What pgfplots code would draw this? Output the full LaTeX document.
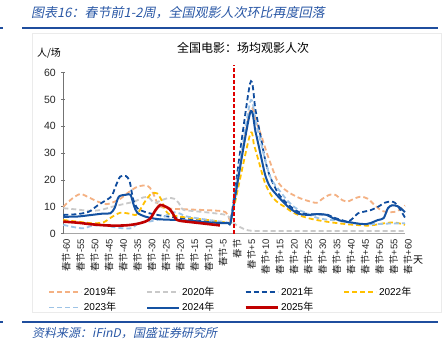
\documentclass[border=0pt]{standalone}
\usepackage{pgfplots}
\pgfplotsset{compat=1.18}
\usepackage{fontspec}
\setmainfont{Liberation Sans}
\newfontfamily\cjk{Noto Sans CJK SC}
\newfontfamily\cjkit{Noto Sans CJK SC}[FakeSlant=0.2]
\newcommand{\cj}[1]{{\cjk #1}}
\definecolor{hdrblue}{HTML}{2A58A6}
\definecolor{rule}{HTML}{1F4E9E}
\definecolor{c19}{HTML}{F4B183}
\definecolor{c20}{HTML}{C9C9C9}
\definecolor{c21}{HTML}{0F4C9E}
\definecolor{c22}{HTML}{FFC000}
\definecolor{c23}{HTML}{9DC3E6}
\definecolor{c24}{HTML}{1452A2}
\definecolor{c25}{HTML}{C00000}
\definecolor{vred}{HTML}{E00000}
\begin{document}
\begin{tikzpicture}
\useasboundingbox (0pt,0pt) rectangle (442pt,356pt);
\fill[white] (0pt,0pt) rectangle (442pt,356pt);
% header
\node[anchor=west, inner sep=0pt, text=hdrblue, font=\cjkit\fontsize{13}{13}\selectfont] at (31pt,343pt) {图表16：春节前1-2周，全国观影人次环比再度回落};
\draw[rule, line width=1.5pt] (22pt,328pt) -- (438pt,328pt);
\draw[rule, line width=1.5pt] (0pt,328pt) -- (3pt,328pt);
% chart area border
\draw[black!8, line width=0.6pt] (32pt,44pt) rectangle (441pt,323pt);
\begin{axis}[
  at={(234.15pt,122.3pt)}, anchor=origin,
  scale only axis, width=341.7pt, height=161pt,
  xmin=-60, xmax=60, ymin=0, ymax=60,
  clip=false,
  axis x line*=bottom, axis y line*=left,
  x axis line style={draw=black!35, line width=1.2pt},
  y axis line style={draw=black!55, line width=0.8pt},
  xtick={-60,-55,...,60},
  xticklabels={\cj{春节}-60,\cj{春节}-55,\cj{春节}-50,\cj{春节}-45,\cj{春节}-40,\cj{春节}-35,\cj{春节}-30,\cj{春节}-25,\cj{春节}-20,\cj{春节}-15,\cj{春节}-10,\cj{春节}-5,\cj{春节},\cj{春节}+5,\cj{春节}+10,\cj{春节}+15,\cj{春节}+20,\cj{春节}+25,\cj{春节}+30,\cj{春节}+35,\cj{春节}+40,\cj{春节}+45,\cj{春节}+50,\cj{春节}+55,\cj{春节}+60},
  x tick label style={rotate=90, anchor=east, font=\fontsize{9.5}{10}\selectfont, yshift=-3pt, text=black!85},
  x tick style={draw=none},
  ytick={0,10,...,60},
  y tick label style={font=\fontsize{10.5}{12}\selectfont, text=black!85, xshift=-2pt},
  y tick style={draw=black!55, line width=0.8pt},
  tick align=center, major tick length=4pt,
  /pgf/number format/assume math mode=true,
  legend columns=4,
  legend cell align=left,
  legend style={at={(axis description cs:-0.045,-0.318)}, anchor=north west, draw=none, fill=none, font=\fontsize{10}{12}\selectfont, inner sep=0pt, row sep=1.5pt, /tikz/every even column/.append style={column sep=28pt}},
  legend image code/.code={\draw[#1] (0pt,0pt) -- (32pt,0pt);},
  every axis plot/.append style={smooth, tension=0.45},
]
\addplot[c19, line width=1.8pt, dash pattern=on 5pt off 3pt] coordinates {
(-60,10)(-57,13)(-54,14.8)(-51,13.5)(-48,12)(-45,11)(-43,11.5)(-40,13)(-37,15.5)(-34,17.5)(-31,18)(-29.5,17)(-28,14)(-26.5,10.5)(-24,9.5)(-20,9.2)(-15,9)(-10,8.8)(-5,8.5)(-3,8)(-2,6.5)(-1.3,5)(0,12.7)
(5.6,46)(8,41)(9.7,36)(11.5,30)(13.2,25)(15,20)(16.7,17.5)(19,15.5)(22.5,13.5)(26,12.2)(29,11.5)(31,13)(33.5,14.5)(35.5,14.5)(38,12.5)(40,12)(42,13)(44.5,13.8)(47,13)(49.5,10.5)(52,8.5)(55,8)(57.5,8.5)(60,10.5)};
\addlegendentry{2019\cj{年}}
\addplot[c20, line width=1.8pt, dash pattern=on 5pt off 3pt] coordinates {
(-60,9.5)(-55,9)(-51,8.5)(-47,8.8)(-43,10)(-39,11)(-35,12)(-32,13.5)(-30,13.5)(-28,11.5)(-25.5,12.5)(-23,13.3)(-21,13)(-19.5,11.5)(-18,9)(-15,8.5)(-10,8)(-6,7.5)(-3,7)(-1,5.5)(0,3.8)(2,2.5)(4,1.5)(6,1.1)(10,1)(20,1)(30,1)(40,1)(50,1)(60,1)};
\addlegendentry{2020\cj{年}}
\addplot[c21, line width=1.8pt, dash pattern=on 5pt off 3pt] coordinates {
(-60,7)(-55,7.3)(-51,8.2)(-48,10.5)(-45,12.5)(-43,14)(-41.5,18)(-40,21.3)(-38,21.5)(-36.7,19.5)(-35.5,13)(-34,9.5)(-31,8)(-28,7.2)(-24,6.5)(-18,5.8)(-12,5.1)(-7,4.3)(-3,4)(-2,4)(-1.3,4)(0,13.8)
(5.6,56)(7.5,46)(9.7,34)(11,27)(12.6,21.3)(15.5,15)(19,10.8)(22.5,8.2)(26,7.3)(30,7.2)(33,7)(35,6)(38,5)(40,4.5)(42,6)(43.5,7.6)(46,8.3)(48,8.8)(50.5,10)(52.8,11.5)(55,12)(56.5,11.5)(58,9.5)(60,6)};
\addlegendentry{2021\cj{年}}
\addplot[c22, line width=1.8pt, dash pattern=on 5pt off 3pt] coordinates {
(-60,5.1)(-55,4.5)(-50,3.9)(-46,4.2)(-43,6.2)(-40,7.8)(-37,7.5)(-34.5,7)(-33,9)(-31,12.5)(-29,15)(-27,15)(-25.5,12.5)(-24,8.5)(-22.5,7)(-20,6.5)(-15,5.8)(-10,5.2)(-5,4.5)(-2,4)(-1.3,3.9)(0,10.1)
(5.6,37)(7,33)(8.5,27.5)(10.8,19)(13.2,14)(15.5,11.5)(17.8,10)(20,8.3)(22.5,7)(26,5.8)(29.5,5)(33,4.4)(36.5,3.9)(40,3.5)(43.5,3.2)(47,3)(50,3.4)(52.8,3.9)(56.3,4.2)(60,3.3)};
\addlegendentry{2022\cj{年}}
\addplot[c23, line width=1.8pt, dash pattern=on 5pt off 3pt] coordinates {
(-60,3.3)(-56.5,2.5)(-53,2)(-50,2.9)(-46,3.2)(-43,2.6)(-39,2)(-36,2.1)(-33.5,3.9)(-30,4.5)(-26.5,5.3)(-23.5,7)(-21.5,8)(-19,7.5)(-17,6.5)(-12,5.6)(-7,4.8)(-3,4.3)(-2,4.1)(-1.3,4)(0,12.5)
(5.6,49)(7.5,42)(9.7,32.5)(11.5,25)(13.2,20)(16.7,15)(19,12)(21.3,9.8)(23.6,8.4)(25,8)(27,6.8)(29.5,5.8)(33,5.2)(36,5)(40,4.2)(45,3.6)(50,3.6)(55,3.8)(60,3.9)};
\addlegendentry{2023\cj{年}}
\addplot[c24, line width=2pt] coordinates {
(-60,6.3)(-55,6.4)(-50,7)(-46,7.5)(-43.5,7.6)(-42,9.5)(-40.5,13.8)(-38,14.5)(-36.4,14.5)(-35.2,10.5)(-34,7.8)(-31,6.3)(-26.5,5.4)(-20,5.1)(-15,4.8)(-10,4.3)(-5,4)(-2,3.9)(-1.3,3.9)(0,11.6)
(5.6,45)(7.5,38)(9.7,27.5)(11,21.5)(12.6,17.5)(15.5,13.8)(19,10)(22.5,7.5)(26,7)(29.5,7.3)(32.5,7)(34.7,5.8)(38,4.7)(41,4.2)(44,3.7)(46.5,3.6)(48,4)(50.5,5.1)(52.5,5.8)(54,9.5)(55.5,10.6)(57.5,10.2)(59,9)(60,8)};
\addlegendentry{2024\cj{年}}
\addplot[c25, line width=2.6pt] coordinates {
(-60,4.5)(-55,4.1)(-50,3.5)(-45,3.1)(-41,3)(-37,3.2)(-33.5,3.8)(-31,4.6)(-29.4,5.7)(-27.6,8.8)(-26,10.7)(-24.5,10.3)(-22.8,9.3)(-21.5,7.5)(-20.5,5.5)(-19,4.8)(-15,4.3)(-10,3.7)(-5,3.1)};
\addlegendentry{2025\cj{年}}
\addplot[vred, line width=1.5pt, dash pattern=on 4pt off 2pt, sharp plot, forget plot] coordinates {(0,0) (0,63)};
\end{axis}
\node[font=\cjk\fontsize{12}{12}\selectfont] at (243pt,308pt) {全国电影：场均观影人次};
\node[font=\cjk\fontsize{10}{10}\selectfont] at (49pt,302.7pt) {人/场};
\node[font=\cjk\fontsize{10}{10}\selectfont] at (418pt,96pt) {天};
% footer
\draw[rule, line width=1.5pt] (22pt,34pt) -- (438pt,34pt);
\draw[rule, line width=1.5pt] (0pt,34pt) -- (3pt,34pt);
\node[anchor=west, inner sep=0pt, text=hdrblue, font=\cjkit\fontsize{12}{12}\selectfont] at (32pt,23pt) {资料来源：iFinD，国盛证券研究所};
\end{tikzpicture}
\end{document}
